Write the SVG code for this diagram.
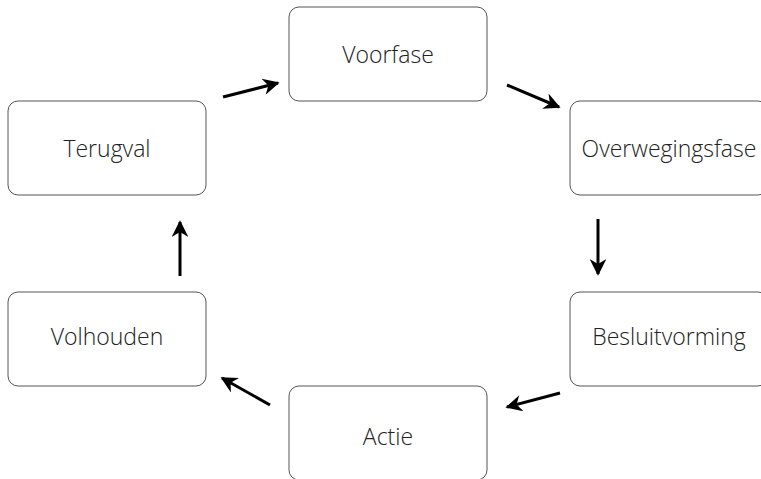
<svg xmlns="http://www.w3.org/2000/svg" width="761" height="479" viewBox="0 0 761 479">
<style>
.box{fill:#fff;stroke:#555;stroke-width:1}
.lbl{font-family:"Open Sans","Liberation Sans",sans-serif;font-weight:300;font-size:23px;fill:#222;text-anchor:middle;dominant-baseline:central}
.conn{stroke:#000;stroke-width:3;fill:none;marker-end:url(#ah)}
</style>
<defs>
<marker id="ah" viewBox="0 0 10 10" refX="9" refY="5" markerWidth="8" markerHeight="5.5" orient="auto" markerUnits="strokeWidth">
<path d="M0,0 L10,5 L0,10 L3,5 Z" fill="#000"/>
</marker>
</defs>
<rect width="761" height="479" fill="#fff"/>
<g id="voorfase"><rect class="box" x="289" y="7" width="198" height="94" rx="10"/><text class="lbl" x="388" y="54">Voorfase</text></g>
<g id="overwegingsfase"><rect class="box" x="570" y="101" width="198" height="94" rx="10"/><text class="lbl" x="669" y="148">Overwegingsfase</text></g>
<g id="besluitvorming"><rect class="box" x="570" y="292" width="198" height="94" rx="10"/><text class="lbl" x="669" y="336">Besluitvorming</text></g>
<g id="actie"><rect class="box" x="289" y="386" width="198" height="94" rx="10"/><text class="lbl" x="388" y="436">Actie</text></g>
<g id="volhouden"><rect class="box" x="8" y="292" width="198" height="94" rx="10"/><text class="lbl" x="107" y="336">Volhouden</text></g>
<g id="terugval"><rect class="box" x="8" y="101" width="198" height="94" rx="10"/><text class="lbl" x="107" y="148">Terugval</text></g>
<g id="connectors">
<line class="conn" x1="223" y1="97" x2="278" y2="83"/>
<line class="conn" x1="507" y1="85" x2="559" y2="107"/>
<line class="conn" x1="598" y1="219" x2="598" y2="274"/>
<line class="conn" x1="560" y1="393" x2="507" y2="407"/>
<line class="conn" x1="270" y1="405" x2="222" y2="378"/>
<line class="conn" x1="180" y1="276" x2="180" y2="222"/>
</g>
</svg>
